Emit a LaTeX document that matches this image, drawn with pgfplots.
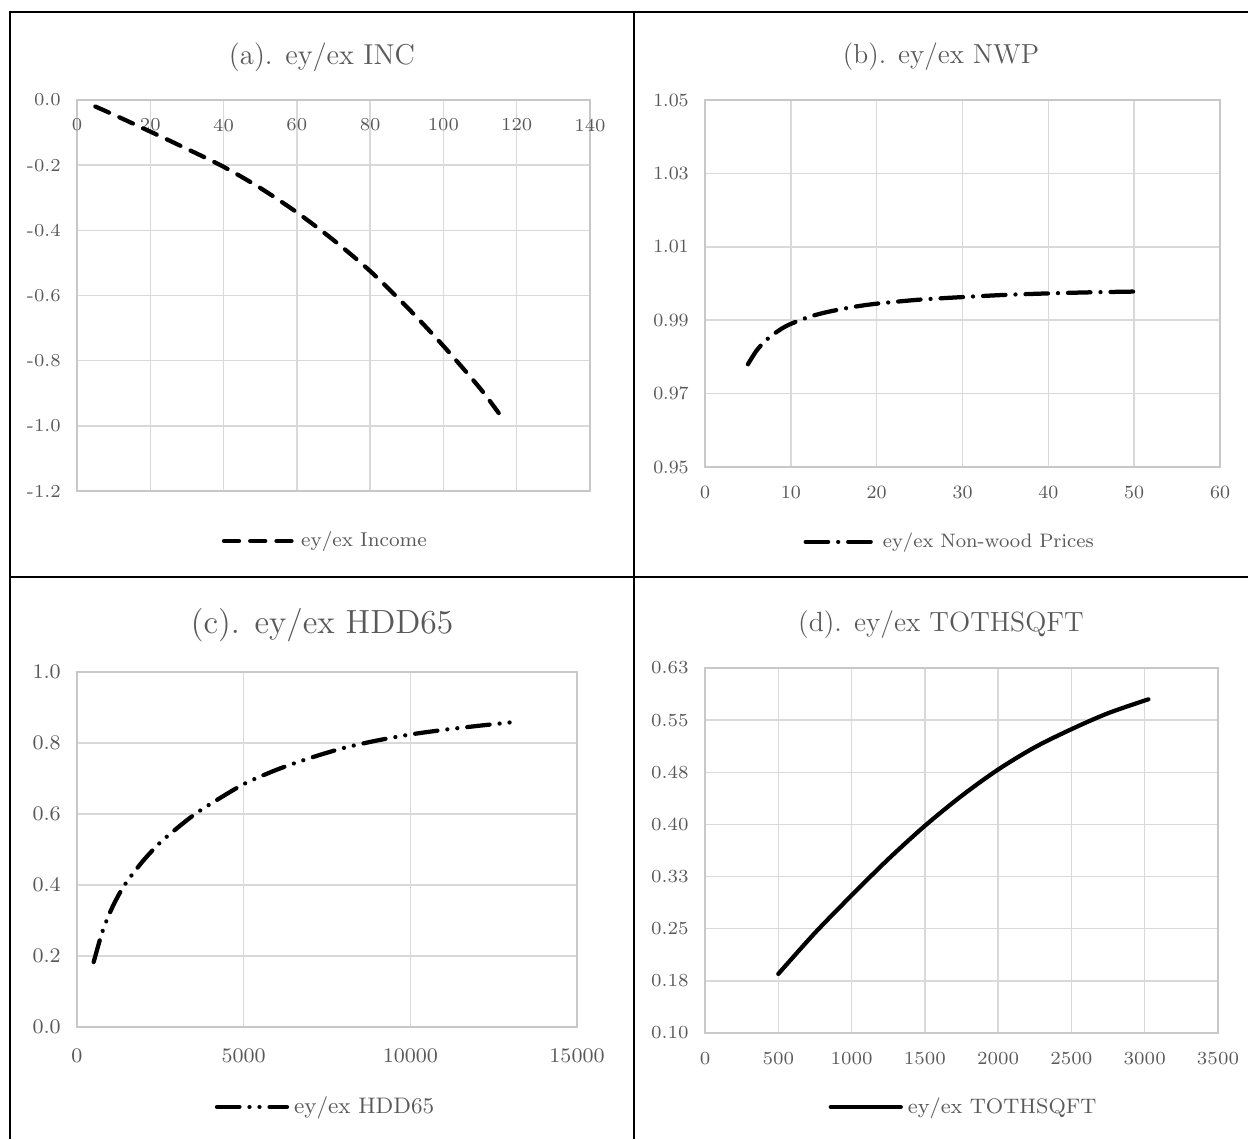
\documentclass[border=0pt]{standalone}
\usepackage{pgfplots}
\pgfplotsset{compat=1.18}
\definecolor{txt}{HTML}{595959}
\definecolor{gridc}{HTML}{D9D9D9}
\definecolor{axc}{HTML}{C8C8C8}

\pgfplotsset{
  panel/.style={
    scale only axis,
    axis line style={axc, line width=0.7pt},
    grid=major, grid style={gridc, line width=0.6pt},
    major tick length=0pt,
    tick label style={text=txt},
    yticklabel style={xshift=-3pt},
    legend style={draw=none, fill=none, text=txt, anchor=center},
    legend image code/.code={\draw[#1] (0pt,0pt) -- (28pt,0pt);},
    scaled ticks=false,
  },
  curve/.style={black, line width=1.7pt, line cap=round, smooth, tension=0.5},
}

\begin{document}
\begin{tikzpicture}
\useasboundingbox (0,0) rectangle (499.2pt,455.6pt);

% frame
\draw[black, line width=0.8pt] (4pt,0pt) -- (4pt,450.8pt) -- (499.2pt,450.8pt);
\draw[black, line width=0.8pt] (253.6pt,0pt) -- (253.6pt,450.8pt);
\draw[black, line width=0.8pt] (4pt,224.8pt) -- (499.2pt,224.8pt);

% titles
\node[text=txt, font=\fontsize{11.5}{13}\selectfont] at (128.8pt,432.8pt) {(a). ey/ex INC};
\node[text=txt, font=\fontsize{11}{13}\selectfont] at (376.4pt,432.8pt) {(b). ey/ex NWP};
\node[text=txt, font=\fontsize{13.4}{15}\selectfont] at (128.8pt,205.6pt) {(c). ey/ex HDD65};
\node[text=txt, font=\fontsize{11.1}{13}\selectfont] at (376.4pt,205.6pt) {(d). ey/ex TOTHSQFT};

% (a)
\begin{axis}[panel, at={(30.8pt,259.2pt)}, anchor=south west,
  width=205.2pt, height=156.4pt,
  xmin=0, xmax=140, ymin=-1.2, ymax=0,
  xtick={0,20,...,140}, xticklabels={0,20,40,60,80,100,120,140},
  ytick={-1.2,-1,-0.8,-0.6,-0.4,-0.2,0},
  yticklabels={-1.2,-1.0,-0.8,-0.6,-0.4,-0.2,0.0},
  xticklabel pos=upper,
  xticklabel style={anchor=north, yshift=-4pt},
  tick label style={font=\fontsize{7.3}{8}\selectfont},
  legend style={at={(0.487,-0.128)}, font=\fontsize{8}{9}\selectfont},
]
\addplot[curve, dash pattern=on 6pt off 4.5pt] coordinates {
(5,-0.02) (10,-0.045) (20,-0.097) (30,-0.15) (40,-0.205) (50,-0.27)
(60,-0.345) (70,-0.43) (80,-0.525) (90,-0.635) (100,-0.755)
(110,-0.885) (116,-0.975)
};
\addlegendentry{ey/ex Income}
\end{axis}

% (b)
\begin{axis}[panel, at={(282pt,268.8pt)}, anchor=south west,
  width=206pt, height=146.8pt,
  xmin=0, xmax=60, ymin=0.95, ymax=1.05,
  xtick={0,10,...,60}, xticklabels={0,10,20,30,40,50,60},
  ytick={0.95,0.97,0.99,1.01,1.03,1.05},
  yticklabels={0.95,0.97,0.99,1.01,1.03,1.05},
  xticklabel style={yshift=-4pt},
  tick label style={font=\fontsize{7.5}{8}\selectfont},
  legend style={at={(0.478,-0.204)}, font=\fontsize{7.8}{9}\selectfont},
]
\addplot[curve, dash pattern=on 9pt off 4pt on 0.01pt off 4pt] coordinates {
(5,0.978) (6,0.9817) (7,0.9843) (8,0.9862) (9,0.9878) (10,0.989)
(12,0.9908) (14,0.9921) (17,0.9935) (20,0.9945) (25,0.9956)
(30,0.9963) (35,0.9969) (40,0.9973) (45,0.9976) (50,0.9978)
};
\addlegendentry{ey/ex Non-wood Prices}
\end{axis}

% (c)
\begin{axis}[panel, at={(30.8pt,44.8pt)}, anchor=south west,
  width=200pt, height=142pt,
  xmin=0, xmax=15000, ymin=0, ymax=1,
  xtick={0,5000,10000,15000}, xticklabels={0,5000,10000,15000},
  ytick={0,0.2,...,1}, yticklabels={0.0,0.2,0.4,0.6,0.8,1.0},
  xticklabel style={yshift=-5pt},
  tick label style={font=\fontsize{8.3}{9}\selectfont},
  legend style={at={(0.5,-0.225)}, font=\fontsize{9}{10}\selectfont},
]
\addplot[curve, dash pattern=on 9pt off 4pt on 0.01pt off 4pt on 0.01pt off 4pt] coordinates {
(500,0.183) (750,0.265) (1000,0.325) (1250,0.372) (1500,0.41)
(2000,0.47) (2500,0.52) (3000,0.56) (3500,0.597) (4000,0.628)
(5000,0.684) (6000,0.725) (7000,0.758) (8000,0.786) (9000,0.807)
(10000,0.824) (11000,0.837) (12000,0.848) (13000,0.858)
};
\addlegendentry{ey/ex HDD65}
\end{axis}

% (d)
\begin{axis}[panel, at={(282pt,42.4pt)}, anchor=south west,
  width=205.2pt, height=146pt,
  xmin=0, xmax=3500, ymin=0.1, ymax=0.625,
  xtick={0,500,...,3500}, xticklabels={0,500,1000,1500,2000,2500,3000,3500},
  ytick={0.1,0.175,0.25,0.325,0.4,0.475,0.55,0.625},
  yticklabels={0.10,0.18,0.25,0.33,0.40,0.48,0.55,0.63},
  xticklabel style={yshift=-4pt},
  tick label style={font=\fontsize{7.4}{8}\selectfont},
  legend style={at={(0.507,-0.203)}, font=\fontsize{8.4}{9}\selectfont},
]
\addplot[curve] coordinates {
(500,0.185) (750,0.244) (1000,0.298) (1250,0.35) (1500,0.398)
(1750,0.441) (2000,0.479) (2250,0.511) (2500,0.537) (2750,0.56)
(3025,0.58)
};
\addlegendentry{ey/ex TOTHSQFT}
\end{axis}
\end{tikzpicture}
\end{document}
